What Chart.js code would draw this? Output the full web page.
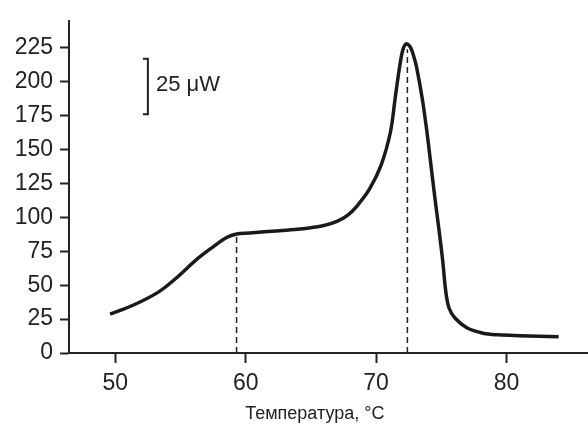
<!DOCTYPE html>
<html>
<head>
<meta charset="utf-8">
<script src="https://cdn.jsdelivr.net/npm/chart.js@4.4.1/dist/chart.umd.min.js"></script>
<style>
  body { margin: 0; background: #fff; }
  #box { width: 588px; height: 425px; }
</style>
</head>
<body>
<div id="box"><canvas id="dsc" width="588" height="425"></canvas></div>
<script>
// DSC curve
const temps = [49.6, 51.4, 53.3, 54.7, 56.2, 57.5, 58.5, 59.3, 60.3, 62.6, 64.2, 66.0, 67.0, 67.8,
               68.5, 69.5, 70.4, 71.1, 71.45, 71.8, 72.05, 72.3, 72.6, 72.85, 73.1, 73.55, 73.9,
               74.2, 74.5, 74.8, 75.1, 75.35, 75.6, 76.05, 76.95, 78.2, 79.4, 81.0, 84.0];
const power = [28.6, 35.4, 44.9, 55.5, 68.7, 78.3, 85, 87.8, 88.5, 90.2, 91.4, 94, 97, 101.5,
               108, 121, 139, 163, 187, 211, 223.5, 228, 226, 220, 211, 187, 163,
               139, 115, 92.6, 68.7, 45, 33, 25.8, 18.6, 14.6, 13.4, 12.8, 12.0];

// dashed markers: onset and peak
const markerTemps = [59.3, 72.4];
const markerTops = [87.5, 224];

const xTicks = [50, 60, 70, 80];
const yTicks = [0, 25, 50, 75, 100, 125, 150, 175, 200, 225];
const xTitle = "Температура, °C";

const ink = "#222";
const family = "Liberation Sans, Arial, sans-serif";
const tickFont = { family, size: 23 };

// 25 uW scale bar (data units)
const scaleBar = { x: 52.5, from: 176, to: 217, labelY: 193, label: "25 \u03bcW" };
const titleAt = 65.3; // title centre, in degrees

const extrasPlugin = {
  id: "extras",
  afterDraw(chart) {
    const { ctx, scales: { x, y } } = chart;
    const bx = x.getPixelForValue(scaleBar.x);
    const y1 = y.getPixelForValue(scaleBar.to);
    const y2 = y.getPixelForValue(scaleBar.from);
    ctx.save();
    ctx.strokeStyle = ink;
    ctx.lineWidth = 2;
    ctx.beginPath();
    ctx.moveTo(bx - 5, y1);
    ctx.lineTo(bx, y1);
    ctx.lineTo(bx, y2);
    ctx.lineTo(bx - 5, y2);
    ctx.stroke();
    ctx.fillStyle = ink;
    ctx.font = "22px " + family;
    ctx.textBaseline = "alphabetic";
    ctx.fillText(scaleBar.label, bx + 8, y.getPixelForValue(scaleBar.labelY));

    // axis title
    ctx.font = "18px " + family;
    ctx.textAlign = "center";
    ctx.fillText(xTitle, x.getPixelForValue(titleAt), x.bottom - 6);
    ctx.restore();
  }
};

const curve = temps.map((t, i) => ({ x: t, y: power[i] }));
const markers = markerTemps.map((t, i) => ({
  data: [{ x: t, y: 0 }, { x: t, y: markerTops[i] }],
  borderColor: ink,
  borderWidth: 1.5,
  borderDash: [6, 4],
  pointRadius: 0,
  order: 1
}));

new Chart(document.getElementById("dsc"), {
  type: "line",
  data: {
    datasets: [
      {
        data: curve,
        borderColor: "#1a1a1a",
        borderWidth: 3.5,
        pointRadius: 0,
        tension: 0.35,
        order: 0
      },
      ...markers
    ]
  },
  options: {
    responsive: false,
    animation: false,
    layout: { padding: { top: 10, right: 0, left: 0, bottom: 0 } },
    plugins: { legend: { display: false }, tooltip: { enabled: false } },
    scales: {
      x: {
        type: "linear",
        min: 46.45,
        max: 86.25,
        afterBuildTicks: s => { s.ticks = xTicks.map(v => ({ value: v })); },
        afterFit: s => { s.height = 72; },
        grid: { drawOnChartArea: false, tickLength: 10, tickWidth: 2, tickColor: ink },
        border: { color: ink, width: 2 },
        ticks: { color: ink, font: tickFont, padding: 7, maxRotation: 0 }
      },
      y: {
        min: 0,
        max: 245,
        afterBuildTicks: s => { s.ticks = yTicks.map(v => ({ value: v })); },
        afterFit: s => { s.width = 69; },
        grid: { drawOnChartArea: false, tickLength: 9, tickWidth: 2, tickColor: ink },
        border: { color: ink, width: 2 },
        ticks: { color: ink, font: tickFont, padding: 7 }
      }
    }
  },
  plugins: [extrasPlugin]
});
</script>
</body>
</html>
